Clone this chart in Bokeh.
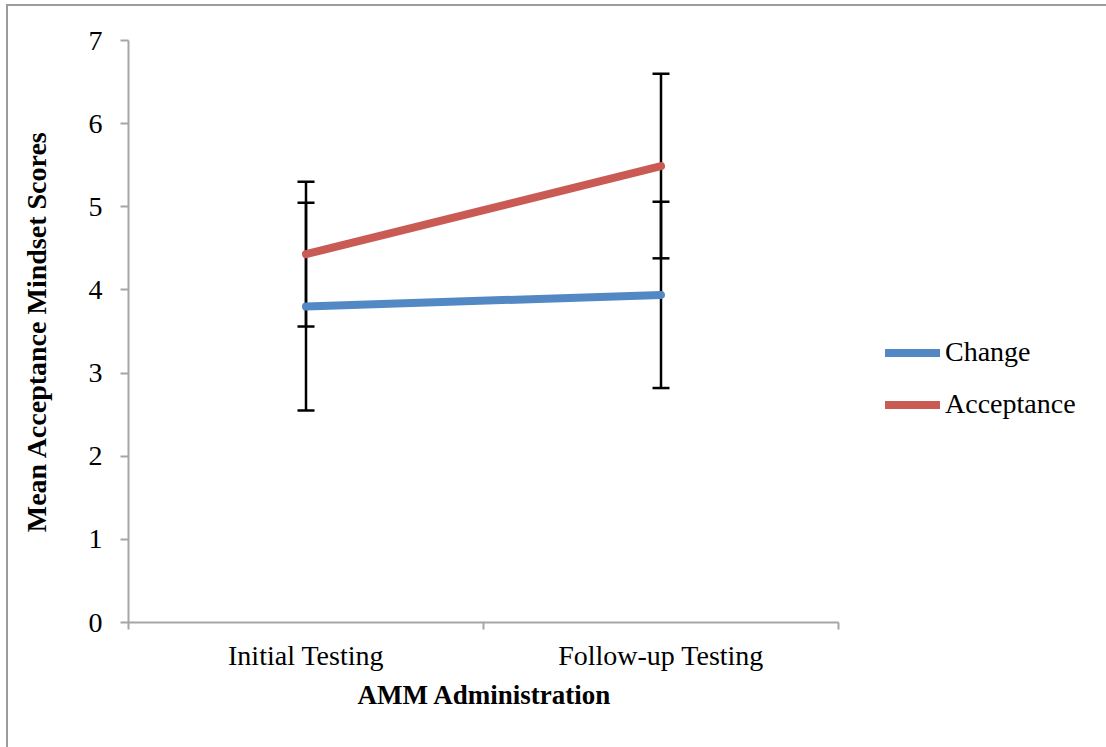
from bokeh.plotting import figure
from bokeh.models import (Range1d, FixedTicker, ColumnDataSource, Whisker, TeeHead,
                          Legend, LegendItem, LinearAxis, Title)
from bokeh.embed import file_html
from bokeh.resources import INLINE

categories = ["Initial Testing", "Follow-up Testing"]
change_mean = [3.80, 3.94]
change_err = [1.25, 1.12]
accept_mean = [4.43, 5.49]
accept_err = [0.87, 1.11]
y_ticks = [0, 1, 2, 3, 4, 5, 6, 7]

BLUE = "#5289C4"
RED = "#C95B54"
GRAY = "#a6a6a6"
FRAME = "#9c9c9c"
FONT = "Liberation Serif"

xs = [i + 0.5 for i in range(len(categories))]

# layout: frame spans 128..1098 px; the category axis occupies 128..838 px
W, H = 1106, 747
LEFT, RIGHT_PAD, TOP, BOTTOM = 128, 8, 40, 125
AXIS_PX = 710
frame_w = W - LEFT - RIGHT_PAD
x_end = len(categories) * frame_w / AXIS_PX

p = figure(width=W, height=H, output_backend="svg", toolbar_location=None,
           x_range=Range1d(0, x_end), y_range=Range1d(0, 7),
           min_border_left=LEFT, min_border_right=RIGHT_PAD, min_border_top=TOP,
           min_border_bottom=BOTTOM,
           x_axis_type=None, y_axis_type=None)
p.outline_line_color = None
p.grid.visible = False
p.border_fill_alpha = 0
p.background_fill_alpha = 0
p.styles = {
    "background": (f"linear-gradient({FRAME},{FRAME}) 6px 4px / 100% 2px no-repeat, "
                   f"linear-gradient({FRAME},{FRAME}) 6px 4px / 2px 100% no-repeat, white"),
}

# axes
xaxis = LinearAxis(ticker=FixedTicker(ticks=xs, minor_ticks=list(range(len(categories) + 1))),
                   bounds=(0, len(categories)))
xaxis.major_label_overrides = {x: c for x, c in zip(xs, categories)}
xaxis.major_tick_out = 0
xaxis.major_tick_in = 0
xaxis.minor_tick_out = 7
xaxis.minor_tick_in = 0
xaxis.minor_tick_line_color = GRAY
xaxis.minor_tick_line_width = 2
xaxis.axis_line_color = GRAY
xaxis.axis_line_width = 2
xaxis.major_label_text_font = FONT
xaxis.major_label_text_font_size = "28px"
xaxis.major_label_text_color = "black"
xaxis.major_label_standoff = 10
p.add_layout(xaxis, "below")

xtitle = Title(text="AMM Administration", align="left", offset=229, standoff=9,
               text_font=FONT, text_font_style="bold", text_font_size="27px",
               text_color="black")
p.add_layout(xtitle, "below")

yaxis = LinearAxis(ticker=FixedTicker(ticks=y_ticks, minor_ticks=[]))
yaxis.major_tick_out = 8
yaxis.major_tick_in = 0
yaxis.major_tick_line_color = GRAY
yaxis.major_tick_line_width = 2
yaxis.axis_line_color = GRAY
yaxis.axis_line_width = 2
yaxis.major_label_text_font = FONT
yaxis.major_label_text_font_size = "28px"
yaxis.major_label_text_color = "black"
yaxis.major_label_standoff = 18
yaxis.axis_label = "Mean Acceptance Mindset Scores"
yaxis.axis_label_text_font = FONT
yaxis.axis_label_text_font_style = "bold"
yaxis.axis_label_text_font_size = "28px"
yaxis.axis_label_text_color = "black"
yaxis.axis_label_standoff = 34
p.add_layout(yaxis, "left")

# error bars
for mean, err in ((change_mean, change_err), (accept_mean, accept_err)):
    src = ColumnDataSource(dict(x=xs,
                                upper=[m + e for m, e in zip(mean, err)],
                                lower=[m - e for m, e in zip(mean, err)]))
    w = Whisker(source=src, base="x", upper="upper", lower="lower",
                line_color="black", line_width=2.5,
                upper_head=TeeHead(size=17, line_color="black", line_width=2.5),
                lower_head=TeeHead(size=17, line_color="black", line_width=2.5))
    p.add_layout(w)

r_change = p.line(xs, change_mean, line_color=BLUE, line_width=8, line_cap="round")
r_accept = p.line(xs, accept_mean, line_color=RED, line_width=8, line_cap="round")

legend = Legend(items=[LegendItem(label="Change", renderers=[r_change]),
                       LegendItem(label="Acceptance", renderers=[r_accept])],
                location=(757, 202), orientation="vertical",
                glyph_width=55, glyph_height=27, spacing=20, label_standoff=5,
                padding=0, margin=0, border_line_color=None, background_fill_alpha=0,
                label_text_font=FONT, label_text_font_size="28px", label_text_color="black",
                label_height=27)
p.add_layout(legend, "center")

open("out.html", "w").write(file_html(p, INLINE))
